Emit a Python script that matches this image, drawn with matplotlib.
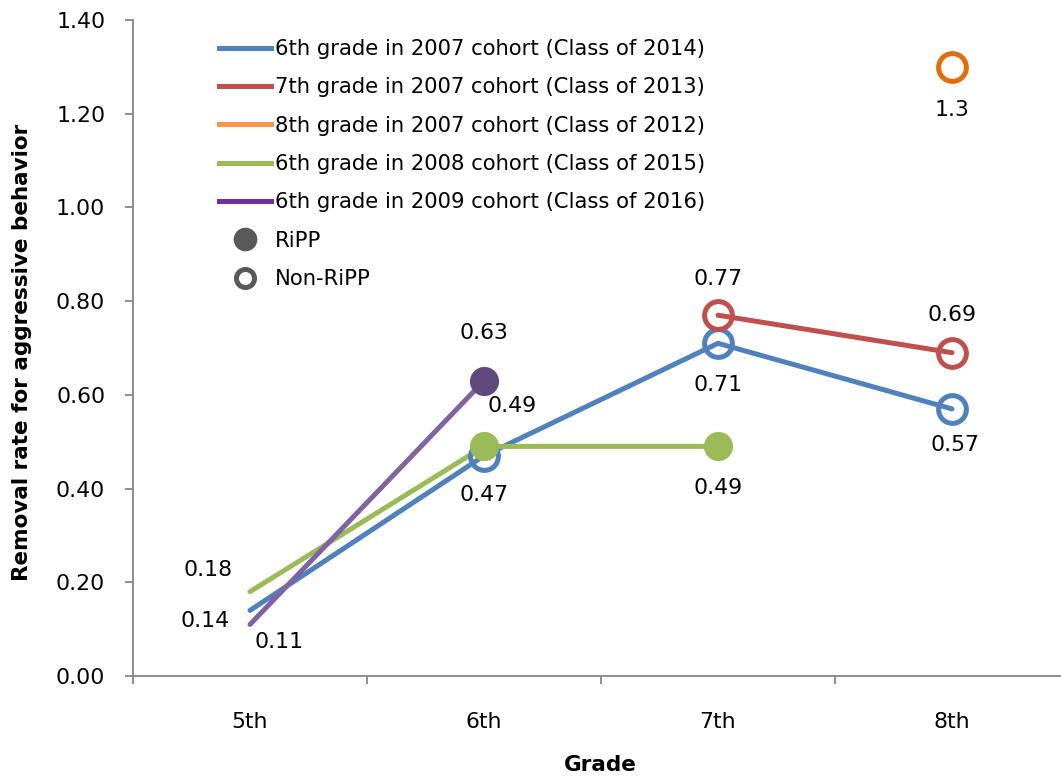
import matplotlib
matplotlib.use("Agg")
import matplotlib.pyplot as plt
from matplotlib.lines import Line2D

grades = ["5th", "6th", "7th", "8th"]
yticks = [0.00, 0.20, 0.40, 0.60, 0.80, 1.00, 1.20, 1.40]

# values per series (None = missing)
s2007_6 = [0.14, 0.47, 0.71, 0.57]
s2007_7 = [None, None, 0.77, 0.69]
s2007_8 = [None, None, None, 1.3]
s2008_6 = [0.18, 0.49, 0.49, None]
s2009_6 = [0.11, 0.63, None, None]

labels = ["6th grade in 2007 cohort (Class of 2014)",
          "7th grade in 2007 cohort (Class of 2013)",
          "8th grade in 2007 cohort (Class of 2012)",
          "6th grade in 2008 cohort (Class of 2015)",
          "6th grade in 2009 cohort (Class of 2016)"]

FONT = ["DejaVu Sans"]
plt.rcParams['font.family'] = FONT
FS = 15.8
LFS = 15.2

fig = plt.figure(figsize=(10.61, 7.78), dpi=100)
W, H = 1061, 778
ax = fig.add_axes([133 / W, (H - 676) / H, (W - 133) / W, (676 - 20) / H])

x5 = 250
xr = (1061 - x5) / 234.0
ax.set_xlim(-0.5, xr)
ax.set_ylim(0, 1.4)

def pts(vals):
    xs = [i for i, v in enumerate(vals) if v is not None]
    ys = [v for v in vals if v is not None]
    return xs, ys

LW = 3.6
blue, red, orange, green, purple = "#4F81BD", "#C0504D", "#E46C0A", "#9BBB59", "#8064A2"

# lines
for vals, c in [(s2007_6, blue), (s2007_7, red), (s2008_6, green), (s2009_6, purple)]:
    xs, ys = pts(vals)
    ax.plot(xs, ys, color=c, lw=LW, solid_capstyle='round', zorder=2)

# open markers (non-RiPP)
open_pts = [(s2007_6, [1, 2, 3], blue), (s2007_7, [2, 3], red), (s2007_8, [3], orange)]
for vals, idx, c in open_pts:
    ax.plot(idx, [vals[i] for i in idx], ls='none', marker='o', ms=20,
            mfc='none', mec=c, mew=3.6, zorder=3)

# filled markers (RiPP)
filled_pts = [(s2008_6, [1, 2], green), (s2009_6, [1], "#604A7B")]
for vals, idx, c in filled_pts:
    ax.plot(idx, [vals[i] for i in idx], ls='none', marker='o', ms=21,
            mfc=c, mec=c, mew=0, zorder=4)

# data labels (offsets in pixels)
ann = [
    (0, s2007_6[0], "0.14", (-45, -11)),
    (0, s2008_6[0], "0.18", (-42, 22)),
    (0, s2009_6[0], "0.11", (29, -18)),
    (1, s2007_6[1], "0.47", (0, -39)),
    (1, s2008_6[1], "0.49", (28, 40)),
    (1, s2009_6[1], "0.63", (0, 48)),
    (2, s2008_6[2], "0.49", (0, -42)),
    (2, s2007_6[2], "0.71", (0, -42)),
    (2, s2007_7[2], "0.77", (0, 36)),
    (3, s2007_7[3], "0.69", (0, 38)),
    (3, s2007_6[3], "0.57", (3, -36)),
    (3, s2007_8[3], "1.3", (0, -43)),
]
for x, y, t, off in ann:
    ax.annotate(t, (x, y), xytext=off, textcoords='offset pixels',
                ha='center', va='center', fontsize=FS, color='#000000', zorder=5)

# axes styling
for s in ['top', 'right']:
    ax.spines[s].set_visible(False)
for s in ['left', 'bottom']:
    ax.spines[s].set_color('#868686')
    ax.spines[s].set_linewidth(1.3)

ax.set_yticks(yticks)
ax.set_yticklabels([f"{v:.2f}" for v in yticks])
ax.tick_params(axis='y', direction='out', length=6, width=1.3, color='#868686',
               labelsize=FS, pad=14)
ax.set_xticks(range(4))
ax.set_xticklabels(grades)
ax.tick_params(axis='x', which='major', length=0, labelsize=FS, pad=26)
ax.set_xticks([-0.5, 0.5, 1.5, 2.5], minor=True)
ax.tick_params(axis='x', which='minor', direction='out', length=6, width=1.3,
               color='#868686')

fig.text(22 / W, 1 - 352 / H, "Removal rate for aggressive behavior", rotation=90,
         ha='center', va='center', fontsize=15.5, fontweight='bold')
fig.text(600 / W, 1 - 765 / H, "Grade", ha='center', va='center',
         fontsize=15.5, fontweight='bold')

# legend
leg_colors = ["#4F81BD", "#C0504D", "#F79646", "#9BBB59", "#7030A0"]
handles = [Line2D([], [], color=c, lw=LW) for c in leg_colors]
handles.append(Line2D([], [], ls='none', marker='o', ms=17, mfc='#595959', mec='#595959', mew=0))
handles.append(Line2D([], [], ls='none', marker='o', ms=13, mfc='white', mec='#595959', mew=3.6))
leg = ax.legend(handles, labels + ["RiPP", "Non-RiPP"], loc='upper left',
                bbox_to_anchor=((219 - 133) / (W - 133), 1 - (39 - 20) / (676 - 20)),
                frameon=False, fontsize=LFS, handlelength=2.45, handletextpad=0.2,
                labelspacing=0.87, borderaxespad=0, borderpad=0)

fig.savefig("out.png", dpi=100, facecolor='white')
